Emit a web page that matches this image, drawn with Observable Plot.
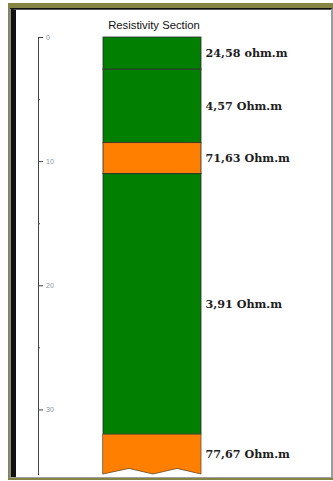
<!DOCTYPE html>
<html>
<head>
<meta charset="utf-8">
<script src="https://cdn.jsdelivr.net/npm/d3@7"></script>
<script src="https://cdn.jsdelivr.net/npm/@observablehq/plot@0.6"></script>
<style>
  html, body { margin: 0; padding: 0; background: #ffffff; }
  #page { position: relative; width: 333px; height: 481px; overflow: hidden; }
  .frame-outer { position: absolute; left: 8px; top: 3px; right: 0; bottom: 1px;
    box-sizing: border-box; border-top: 5px solid #858444; border-left: 1px solid #858444;
    border-bottom: 2px solid #858444; }
  .frame-mid { position: absolute; inset: 0; box-sizing: border-box;
    border-top: 1px solid #111; border-left: 2px solid #8a8a8a;
    border-right: 2px solid #9c9c9c; border-bottom: 1px solid #a0a0a0; }
  .frame-inner { position: absolute; inset: 0; box-sizing: border-box;
    border-top: 1px solid #555; border-left: 5px solid #111; background: #ffffff; }
  #title { position: absolute; left: 0; width: 308px; top: 19px; text-align: center;
    font-family: "Liberation Sans", Arial, sans-serif; font-size: 11.3px; color: #111; }
  #chart { position: absolute; left: 0; top: 0; }
</style>
</head>
<body>
<div id="page">
  <div class="frame-outer"><div class="frame-mid"><div class="frame-inner"></div></div></div>
  <div id="title">Resistivity Section</div>
  <div id="chart"></div>
</div>
<script>
// Layer boundaries (depth, m) and measured resistivity of each layer
const layerTop = [0, 2.6, 8.5, 11, 32];
const layerBottom = [2.6, 8.5, 11, 32, 35.2];
const resistivity = [24.58, 4.57, 71.63, 3.91, 77.67];
const unitLabel = ["ohm.m", "Ohm.m", "Ohm.m", "Ohm.m", "Ohm.m"];

// Depth axis ticks
const majorTicks = [0, 10, 20, 30];
const minorTicks = [5, 15, 25];

// Jagged lower edge of the open-ended bottom layer (fraction across column, depth)
const edgeAcross = [0, 0.265, 0.51, 0.755, 1];
const edgeDepth = [35.2, 34.75, 35.2, 34.75, 35.2];

const layers = layerTop.map((top, i) => ({
  top, bottom: layerBottom[i], rho: resistivity[i],
  label: resistivity[i].toFixed(2).replace(".", ",") + " " + unitLabel[i],
  mid: (top + layerBottom[i]) / 2
}));
const closedLayers = layers.slice(0, -1);
const openLayer = layers[layers.length - 1];
const edge = edgeAcross.map((x, i) => ({x, depth: edgeDepth[i]}));

const fillFor = d => d.rho > 50 ? "#ff8000" : "#007f00";

const chart = Plot.plot({
  width: 333,
  height: 481,
  marginTop: 37,
  marginBottom: 7,
  marginLeft: 38,
  marginRight: 0,
  style: {background: "transparent", overflow: "visible"},
  x: {domain: [0, 1], range: [103, 201], axis: null},
  y: {domain: [0, 35.2], range: [37, 474], axis: null},
  marks: [
    Plot.frame({anchor: "left", stroke: "#444"}),
    Plot.axisY({ticks: majorTicks, tickSize: -5, text: null, stroke: "#444"}),
    Plot.axisY({ticks: minorTicks, tickSize: -2, text: null, stroke: "#444"}),
    Plot.text(majorTicks, {y: d => d, frameAnchor: "left", dx: 7.5, textAnchor: "start",
      text: d => String(d), fontSize: 7, fill: "#8c929a",
      fontFamily: "Liberation Sans, Arial, sans-serif"}),
    Plot.rect(closedLayers, {x1: 0, x2: 1, y1: "top", y2: "bottom",
      fill: fillFor, stroke: "#2e2e2e", strokeOpacity: 0.75, strokeWidth: 1.1}),
    Plot.areaY(edge, {x: "x", y1: openLayer.top, y2: "depth",
      fill: fillFor(openLayer), stroke: "#6b4a2a", strokeOpacity: 0.8, strokeWidth: 1,
      curve: "linear"}),
    Plot.text(layers, {x: 1, y: "mid", text: "label", dx: 4, textAnchor: "start",
      fontFamily: "DejaVu Serif, serif", fontWeight: "bold", fontSize: 11.2, fill: "#1e1e1e"})
  ]
});
document.getElementById("chart").appendChild(chart);
</script>
</body>
</html>
